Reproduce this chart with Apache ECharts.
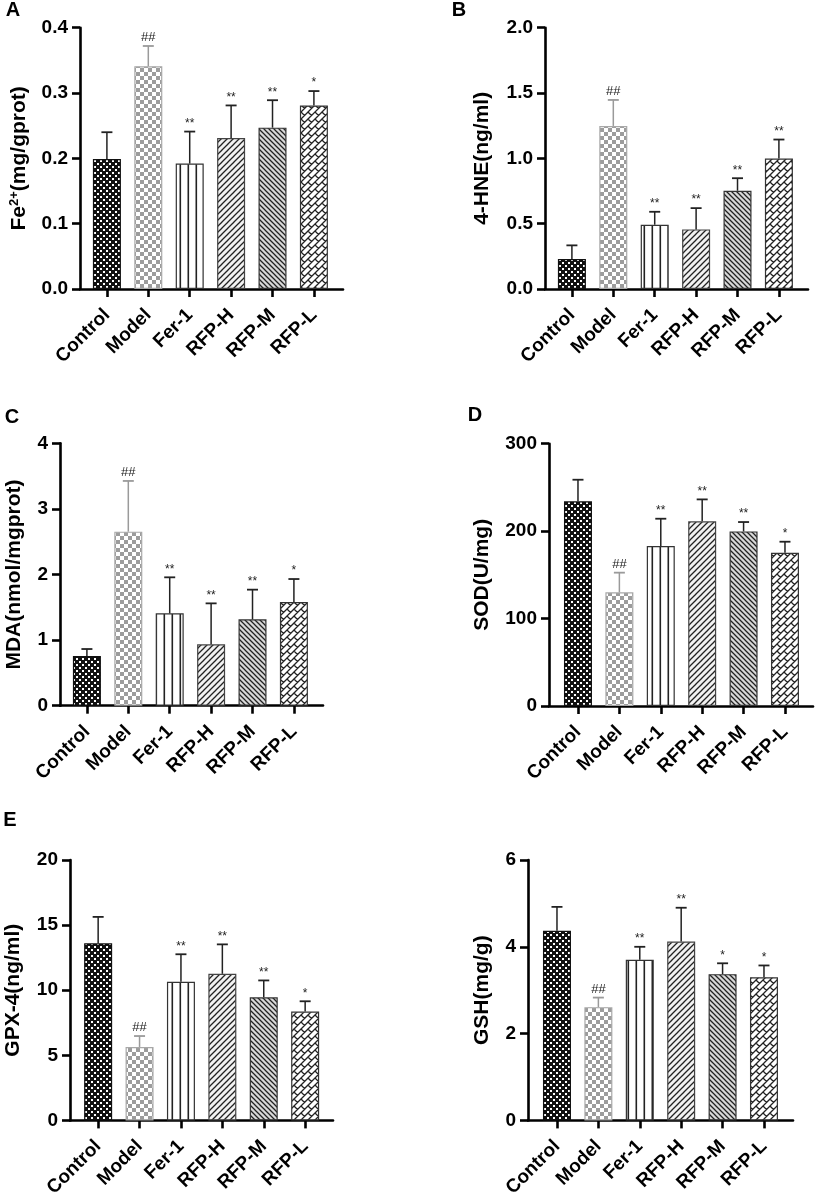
<!DOCTYPE html>
<html><head><meta charset="utf-8">
<script src="https://cdn.jsdelivr.net/npm/echarts@6/dist/echarts.min.js"></script>
<style>html,body{margin:0;padding:0;background:#fff}#c{width:816px;height:1200px}</style>
</head><body><div id="c"></div><script>
// ---------- data ----------
const categories = ['Control','Model','Fer-1','RFP-H','RFP-M','RFP-L'];

const feMean  = [0.199,0.341,0.192,0.231,0.247,0.281];
const feUpper = [0.240,0.372,0.241,0.281,0.289,0.303];
const feMarks = ['','##','**','**','**','*'];
const feTicks = ['0.0','0.1','0.2','0.3','0.4'];

const hneMean  = [0.229,1.248,0.492,0.456,0.752,0.999];
const hneUpper = [0.334,1.447,0.591,0.619,0.848,1.144];
const hneMarks = ['','##','**','**','**','**'];
const hneTicks = ['0.0','0.5','1.0','1.5','2.0'];

const mdaMean  = [0.757,2.653,1.408,0.935,1.316,1.581];
const mdaUpper = [0.864,3.426,1.957,1.560,1.769,1.931];
const mdaMarks = ['','##','**','**','**','*'];
const mdaTicks = ['0','1','2','3','4'];

const sodMean  = [234.1,130.0,183.0,211.2,199.7,175.3];
const sodUpper = [258.8,152.5,214.2,236.3,210.4,187.9];
const sodMarks = ['','##','**','**','**','*'];
const sodTicks = ['0','100','200','300'];

const gpxMean  = [13.6,5.64,10.65,11.26,9.45,8.36];
const gpxUpper = [15.63,6.48,12.76,13.52,10.75,9.15];
const gpxMarks = ['','##','**','**','**','*'];
const gpxTicks = ['0','5','10','15','20'];

const gshMean  = [4.37,2.61,3.70,4.12,3.37,3.30];
const gshUpper = [4.92,2.83,4.00,4.90,3.62,3.57];
const gshMarks = ['','##','**','**','*','*'];
const gshTicks = ['0','2','4','6'];

// ---------- patterns ----------
function tile(w,h,draw){const c=document.createElement('canvas');c.width=w;c.height=h;const g=c.getContext('2d');draw(g,w,h);return {image:c,repeat:'repeat'};}
function diag(g,s,dir){ // dir 1 = "/", -1 = "\"
  g.beginPath();
  for(let k=-1;k<=2;k++){
    const c=k*s;
    if(dir===1){g.moveTo(c+2,-2);g.lineTo(c-s-2,s+2);} else {g.moveTo(c-s-2,-2);g.lineTo(c+2,s+2);}
  }
  g.stroke();
}
const patControl = tile(6,6,(g)=>{g.fillStyle='#111';g.fillRect(0,0,6,6);g.fillStyle='#fff';g.fillRect(1,1,2,2);g.fillRect(4,4,2,2);});
const patModel = tile(8,8,(g)=>{g.fillStyle='#fff';g.fillRect(0,0,8,8);g.fillStyle='#9c9c9c';g.fillRect(0,0,4,4);g.fillRect(4,4,4,4);});
const patFer = tile(8,8,(g)=>{g.fillStyle='#fff';g.fillRect(0,0,8,8);g.fillStyle='#222';g.fillRect(3.5,0,1.6,8);});
const patH = tile(6,6,(g)=>{g.fillStyle='#f2f2f2';g.fillRect(0,0,6,6);g.strokeStyle='#222';g.lineWidth=1.3;diag(g,6,1);});
const patM = tile(5,5,(g)=>{g.fillStyle='#d8d8d8';g.fillRect(0,0,5,5);g.strokeStyle='#222';g.lineWidth=1.25;diag(g,5,-1);});
const patL = tile(14,14,(g)=>{
  g.fillStyle='#fff';g.fillRect(0,0,14,14);g.strokeStyle='#222';g.lineWidth=1.3;
  g.beginPath();
  for(let c=-14;c<=42;c+=7){g.moveTo(c+2,-2);g.lineTo(c-16,16);}
  for(let c0=-14;c0<=28;c0+=7){
    const band=((c0/7)%2+2)%2;
    for(let d=-28;d<=28;d+=14){
      const dd=d+(band?7:0);
      g.moveTo((c0+dd)/2,(c0-dd)/2);g.lineTo((c0+7+dd)/2,(c0+7-dd)/2);
    }
  }
  g.stroke();
});
const patterns = [patControl,patModel,patFer,patH,patM,patL];
const borders = ['#111','#a8a8a8','#333','#444','#333','#333'];

// ---------- layout ----------
const SP = 41.4;
const panels = [
 {letter:'A',lx:13,ly:10, mean:feMean, upper:feUpper, marks:feMarks, ticks:feTicks, name:'Fe{sup|2+}(mg/gprot)', left:80, top:27.7, width:263, height:261.3, xMin:-0.65, nameGap:49},
 {letter:'B',lx:459,ly:10, mean:hneMean, upper:hneUpper, marks:hneMarks, ticks:hneTicks, name:'4-HNE(ng/ml)', left:545, top:27.7, width:263, height:261.3, xMin:-0.65, nameGap:52},
 {letter:'C',lx:12,ly:417, mean:mdaMean, upper:mdaUpper, marks:mdaMarks, ticks:mdaTicks, name:'MDA(nmol/mgprot)', left:60, top:443.3, width:263, height:262.4, xMin:-0.65, nameGap:35},
 {letter:'D',lx:475,ly:415, mean:sodMean, upper:sodUpper, marks:sodMarks, ticks:sodTicks, name:'SOD(U/mg)', left:549, top:443.7, width:264, height:262.3, xMin:-0.70, nameGap:56},
 {letter:'E',lx:10,ly:820, mean:gpxMean, upper:gpxUpper, marks:gpxMarks, ticks:gpxTicks, name:'GPX-4(ng/ml)', left:70, top:860, width:263, height:262.3, xMin:-0.68, nameGap:46},
 {letter:'',lx:0,ly:0, mean:gshMean, upper:gshUpper, marks:gshMarks, ticks:gshTicks, name:'GSH(mg/g)', left:528, top:860, width:265, height:262.7, xMin:-0.70, nameGap:35}
];

const FONT = 'Arial, "Liberation Sans", Helvetica, sans-serif';
const grid=[],xAxis=[],yAxis=[],series=[],graphic=[];
panels.forEach((p,k)=>{
  grid.push({left:p.left,top:p.top,width:p.width,height:p.height});
  xAxis.push({
    type:'value', gridIndex:k, min:p.xMin, max:p.xMin+p.width/SP,
    splitLine:{show:false},
    axisLine:{show:true,onZero:false,lineStyle:{color:'#000',width:2.6}},
    axisTick:{show:true,customValues:[0,1,2,3,4,5],length:8,lineStyle:{color:'#000',width:2.6}},
    axisLabel:{show:true,customValues:[0,1,2,3,4,5],formatter:v=>categories[Math.round(v)],rotate:45,margin:23,
      fontSize:19,fontWeight:'bold',color:'#000',fontFamily:FONT}
  });
  const ticks=p.ticks;
  yAxis.push({
    type:'value', gridIndex:k, min:0, max:parseFloat(ticks[ticks.length-1]), interval:parseFloat(ticks[1]),
    splitLine:{show:false},
    axisLine:{show:true,onZero:false,lineStyle:{color:'#000',width:2.6}},
    axisTick:{show:true,length:8,lineStyle:{color:'#000',width:2.6}},
    axisLabel:{formatter:(v,i)=>ticks[i],margin:12,fontSize:19,fontWeight:'bold',color:'#000',fontFamily:FONT},
    name:p.name, nameLocation:'middle', nameGap:p.nameGap,
    nameTextStyle:{fontSize:21,fontWeight:'bold',color:'#000',fontFamily:FONT,
      rich:{sup:{fontSize:13,fontWeight:'bold',color:'#000',fontFamily:FONT,verticalAlign:'top',padding:[0,0,10,0]}}}
  });
  series.push({
    type:'bar', xAxisIndex:k, yAxisIndex:k, barWidth:28, silent:true,
    data:p.mean.map((v,i)=>({value:[i,v],itemStyle:{color:patterns[i],borderColor:borders[i],borderWidth:1.2}}))
  });
  const marks=p.marks;
  series.push({
    type:'custom', xAxisIndex:k, yAxisIndex:k, z:5, silent:true,
    encode:{x:0,y:[1,2]},
    data:p.mean.map((v,i)=>[i,v,p.upper[i]]),
    renderItem:(params,api)=>{
      const x=api.value(0),m=api.value(1),u=api.value(2);
      const a=api.coord([x,m]),b=api.coord([x,u]);
      const col = x===1?'#9a9a9a':'#222';
      const mk = marks[x];
      const fs = mk.indexOf('#')>=0 ? 13 : 12;
      return {type:'group',children:[
        {type:'line',shape:{x1:a[0],y1:a[1],x2:b[0],y2:b[1]},style:{stroke:col,lineWidth:1.5}},
        {type:'line',shape:{x1:b[0]-5.5,y1:b[1],x2:b[0]+5.5,y2:b[1]},style:{stroke:col,lineWidth:1.8}},
        {type:'text',x:b[0],y:b[1]-2,style:{text:mk,fill:'#222',font:fs+'px '+FONT,align:'center',verticalAlign:'bottom'}}
      ]};
    }
  });
  if(p.letter){
    graphic.push({type:'text',x:p.lx,y:p.ly,style:{text:p.letter,fill:'#000',font:'bold 20px '+FONT,align:'center',verticalAlign:'middle'}});
  }
});

const chart = echarts.init(document.getElementById('c'),null,{renderer:'canvas'});
chart.setOption({
  backgroundColor:'#fff', animation:false,
  textStyle:{fontFamily:FONT},
  grid, xAxis, yAxis, series, graphic
});
</script></body></html>
